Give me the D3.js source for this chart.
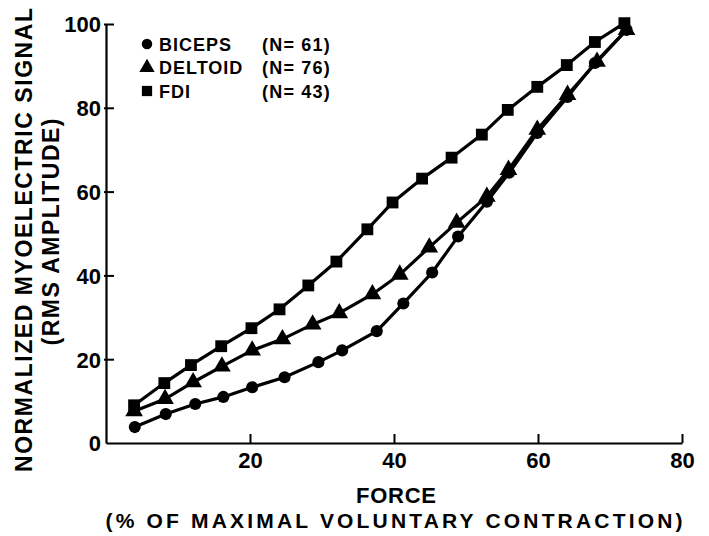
<!DOCTYPE html>
<html lang="en">
<head>
<meta charset="UTF-8">
<title>Normalized myoelectric signal vs force</title>
<script src="https://d3js.org/d3.v7.min.js"></script>
<style>
  body { margin: 0; background: #fff; }
  svg text { font-family: "Liberation Sans", Arial, sans-serif; font-weight: bold; fill: #000; }
</style>
</head>
<body>
<div id="chart"></div>
<script>
  // data (force %MVC, normalized amplitude)
  const bicepsX = [4.0, 8.3, 12.4, 16.3, 20.3, 24.8, 29.5, 32.8, 37.6, 41.3, 45.3, 48.9, 52.9, 56.0, 59.9, 64.1, 67.9, 72.3];
  const bicepsY = [3.8, 6.9, 9.3, 11.0, 13.3, 15.7, 19.3, 22.1, 26.7, 33.3, 40.7, 49.3, 57.6, 64.5, 74.0, 82.6, 90.7, 98.6];
  const deltoidX = [3.9, 8.2, 12.1, 16.1, 20.3, 24.5, 28.7, 32.4, 37.0, 40.8, 44.9, 48.7, 52.9, 55.9, 59.9, 64.1, 68.2, 72.3];
  const deltoidY = [7.6, 10.5, 14.5, 18.3, 22.1, 24.8, 28.3, 31.0, 35.5, 40.2, 46.7, 52.6, 58.8, 65.2, 74.8, 83.1, 91.0, 98.6];
  const fdiX = [3.9, 8.1, 11.8, 16.0, 20.2, 24.1, 28.1, 32.0, 36.3, 39.8, 43.9, 48.0, 52.2, 55.8, 59.9, 64.0, 67.9, 72.0];
  const fdiY = [9.0, 14.3, 18.6, 23.1, 27.4, 31.9, 37.6, 43.3, 51.0, 57.4, 63.1, 68.1, 73.6, 79.5, 85.0, 90.2, 95.7, 100.2];

  const muscles = ["BICEPS", "DELTOID", "FDI"];
  const counts = ["(N= 61)", "(N= 76)", "(N= 43)"];
  const xTicks = [20, 40, 60, 80];
  const yTicks = [0, 20, 40, 60, 80, 100];

  const width = 709, height = 536;
  const margin = {top: 24, right: 27, bottom: 93, left: 106};

  const svg = d3.select("#chart")
    .append("svg")
    .attr("width", width)
    .attr("height", height);

  const x = d3.scaleLinear()
    .domain([0, 80])
    .range([margin.left, width - margin.right]);

  const y = d3.scaleLinear()
    .domain([0, 100])
    .range([height - margin.bottom, margin.top]);

  // x axis - ticks point inward
  const xAxis = svg.append("g")
    .attr("transform", `translate(0,${y(0)})`)
    .call(d3.axisBottom(x).tickValues(xTicks).tickSizeInner(-9).tickSizeOuter(0).tickPadding(9));
  xAxis.select(".domain").attr("stroke-width", 2.2);
  xAxis.selectAll(".tick line").attr("stroke-width", 2);
  xAxis.selectAll("text").style("font-size", "22px");

  // y axis
  const yAxis = svg.append("g")
    .attr("transform", `translate(${x(0)},0)`)
    .call(d3.axisLeft(y).tickValues(yTicks).tickSizeInner(-8).tickSizeOuter(0).tickPadding(5));
  yAxis.select(".domain").attr("stroke-width", 2.2);
  yAxis.selectAll(".tick line").attr("stroke-width", 2).attr("x1", -2);
  yAxis.selectAll(".tick").filter(d => d === 0).select("line").remove();
  yAxis.selectAll("text").style("font-size", "22px").attr("dy", "0.36em");

  const series = [
    {name: "BICEPS", xs: bicepsX, ys: bicepsY, symbol: d3.symbolCircle, size: 115},
    {name: "DELTOID", xs: deltoidX, ys: deltoidY, symbol: d3.symbolTriangle, size: 135},
    {name: "FDI", xs: fdiX, ys: fdiY, symbol: d3.symbolSquare, size: 140}
  ];

  const line = d3.line()
    .x(d => x(d[0]))
    .y(d => y(d[1]));

  series.forEach(s => {
    const pts = s.xs.map((v, i) => [v, s.ys[i]]);
    svg.append("path")
      .datum(pts)
      .attr("fill", "none")
      .attr("stroke", "#000")
      .attr("stroke-width", 3.2)
      .attr("d", line);
    svg.selectAll(null)
      .data(pts)
      .join("path")
      .attr("transform", d => `translate(${x(d[0])},${y(d[1])})`)
      .attr("d", d3.symbol().type(s.symbol).size(s.size))
      .attr("fill", "#000");
  });

  // legend
  const legend = svg.append("g").attr("transform", "translate(147,44)");
  legend.selectAll("path")
    .data(series)
    .join("path")
    .attr("transform", (d, i) => `translate(0,${i * 23.5})`)
    .attr("d", d => d3.symbol().type(d.symbol).size(d.size * 0.75)())
    .attr("fill", "#000");
  legend.selectAll("text.name")
    .data(muscles)
    .join("text")
    .attr("class", "name")
    .attr("x", 12)
    .attr("y", (d, i) => i * 23.5 + 6.5)
    .style("font-size", "18px")
    .style("letter-spacing", "1px")
    .text(d => d);
  legend.selectAll("text.count")
    .data(counts)
    .join("text")
    .attr("class", "count")
    .attr("x", 115)
    .attr("y", (d, i) => i * 23.5 + 6.5)
    .style("font-size", "18px")
    .style("letter-spacing", "1.2px")
    .text(d => d);

  // axis titles
  svg.append("text")
    .attr("transform", "translate(32,240) rotate(-90)")
    .attr("text-anchor", "middle")
    .attr("textLength", 464)
    .attr("lengthAdjust", "spacing")
    .style("font-size", "23px")
    .text("NORMALIZED MYOELECTRIC SIGNAL");

  svg.append("text")
    .attr("transform", "translate(59,232) rotate(-90)")
    .attr("text-anchor", "middle")
    .attr("textLength", 227)
    .attr("lengthAdjust", "spacing")
    .style("font-size", "23px")
    .text("(RMS AMPLITUDE)");

  svg.append("text")
    .attr("x", 396)
    .attr("y", 503)
    .attr("text-anchor", "middle")
    .attr("textLength", 80)
    .attr("lengthAdjust", "spacing")
    .style("font-size", "22px")
    .text("FORCE");

  svg.append("text")
    .attr("x", 394)
    .attr("y", 528)
    .attr("text-anchor", "middle")
    .attr("textLength", 577)
    .attr("lengthAdjust", "spacing")
    .style("font-size", "21px")
    .text("(% OF MAXIMAL VOLUNTARY CONTRACTION)");
</script>
</body>
</html>
